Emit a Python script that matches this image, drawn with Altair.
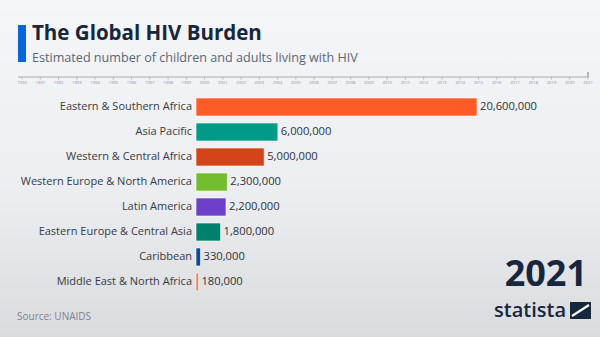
import altair as alt
import pandas as pd

regions = [
    "Eastern & Southern Africa",
    "Asia Pacific",
    "Western & Central Africa",
    "Western Europe & North America",
    "Latin America",
    "Eastern Europe & Central Asia",
    "Caribbean",
    "Middle East & North Africa",
]
values = [20600000, 6000000, 5000000, 2300000, 2200000, 1800000, 330000, 180000]
colors = ["#ff5b26", "#009b86", "#d4441a", "#74bd2e", "#6e3fc8", "#00806d", "#0b4a9c", "#f07a4a"]
years = list(range(1990, 2022))

W, H = 600, 337
df = pd.DataFrame({"region": regions, "value": values, "color": colors})
ydf = pd.DataFrame({"year": years, "label": [str(y) for y in years]})
one = pd.DataFrame({"a": [0]})

FONT = "Open Sans"
NAVY = "#16263d"

bg = alt.Chart(one).mark_rect(
    color=alt.Gradient(
        gradient="linear",
        stops=[alt.GradientStop(color="#f5f6f9", offset=0),
               alt.GradientStop(color="#eceef1", offset=0.55),
               alt.GradientStop(color="#dadbde", offset=1)],
        x1=0, x2=0, y1=0, y2=1,
    )
).encode(x=alt.value(0), x2=alt.value(W), y=alt.value(0), y2=alt.value(H))

accent = alt.Chart(one).mark_rect(color="#0a66d8").encode(
    x=alt.value(18), x2=alt.value(26), y=alt.value(25), y2=alt.value(62))

title = alt.Chart(one).mark_text(
    text="The Global HIV Burden", font=FONT, fontSize=20.5, fontWeight="bold",
    color=NAVY, align="left", baseline="alphabetic"
).encode(x=alt.value(32), y=alt.value(40))

subtitle = alt.Chart(one).mark_text(
    text="Estimated number of children and adults living with HIV", font=FONT,
    fontSize=12.6, color="#5b6577", align="left", baseline="alphabetic"
).encode(x=alt.value(32), y=alt.value(62))

xs_year = alt.Scale(domain=[1990, 2021], range=[22, 588])
tl_line = alt.Chart(one).mark_rule(color="#a9adb4", strokeWidth=1).encode(
    x=alt.value(18), x2=alt.value(588), y=alt.value(77))
tl_ticks = alt.Chart(ydf).mark_rule(color="#a9adb4", strokeWidth=0.8).encode(
    x=alt.X("year:Q", scale=xs_year, axis=None), y=alt.value(77), y2=alt.value(79.5))
tl_end = alt.Chart(one).mark_rule(color="#8d9199", strokeWidth=1.2).encode(
    x=alt.value(588), y=alt.value(72), y2=alt.value(77))
tl_text = alt.Chart(ydf).mark_text(
    font=FONT, fontSize=4.2, color="#8a8f98", baseline="middle"
).encode(x=alt.X("year:Q", scale=xs_year, axis=None), y=alt.value(83), text="label:N")
timeline = alt.layer(tl_ticks, tl_text)

xs = alt.Scale(domain=[0, 20600000], range=[196, 477])
ys = alt.Scale(domain=regions, range=[94.5, 294.5], paddingInner=0.28, paddingOuter=0.14)

bars = alt.Chart(df).mark_bar(stroke="white", strokeWidth=1, strokeOpacity=0.6).encode(
    x=alt.X("value:Q", scale=xs, axis=None),
    y=alt.Y("region:N", scale=ys, axis=None, sort=regions),
    color=alt.Color("color:N", scale=None),
)
vlabels = alt.Chart(df).mark_text(
    font=FONT, fontSize=11.2, color="#2e333b", align="left", baseline="middle", dx=3
).encode(
    x=alt.X("value:Q", scale=xs, axis=None),
    y=alt.Y("region:N", scale=ys, axis=None, sort=regions),
    text=alt.Text("value:Q", format=","),
)
clabels = alt.Chart(df).mark_text(
    font=FONT, fontSize=11, color="#363b44", align="right", baseline="middle"
).encode(
    x=alt.value(192),
    y=alt.Y("region:N", scale=ys, axis=None, sort=regions),
    text="region:N",
)
barlayer = alt.layer(bars, vlabels, clabels)

year_big = alt.Chart(one).mark_text(
    text="2021", font=FONT, fontSize=36, fontWeight="bold", color=NAVY,
    align="right", baseline="alphabetic"
).encode(x=alt.value(587), y=alt.value(286))

statista = alt.Chart(one).mark_text(
    text="statista", font=FONT, fontSize=20, fontWeight=600, color=NAVY,
    align="right", baseline="alphabetic"
).encode(x=alt.value(566), y=alt.value(317))

logo_box = alt.Chart(one).mark_rect(color=NAVY).encode(
    x=alt.value(570), x2=alt.value(591), y=alt.value(302), y2=alt.value(319))
logo_s = alt.Chart(one).mark_rule(color="white", strokeWidth=2.2).encode(
    x=alt.value(572), x2=alt.value(589), y=alt.value(316), y2=alt.value(305))

source = alt.Chart(one).mark_text(
    text="Source: UNAIDS", font=FONT, fontSize=10, color="#7d838e",
    align="left", baseline="middle"
).encode(x=alt.value(17), y=alt.value(317))

chart = alt.layer(
    bg, accent, title, subtitle, tl_line, tl_end, timeline, barlayer,
    year_big, statista, logo_box, logo_s, source
).resolve_scale(x="independent", y="independent").properties(
    width=W, height=H, padding=0, autosize=alt.AutoSizeParams(type="none"),
    background="#eceef1",
).configure_view(stroke=None)

chart.save("out.html", embed_options={"renderer": "svg", "actions": False})
